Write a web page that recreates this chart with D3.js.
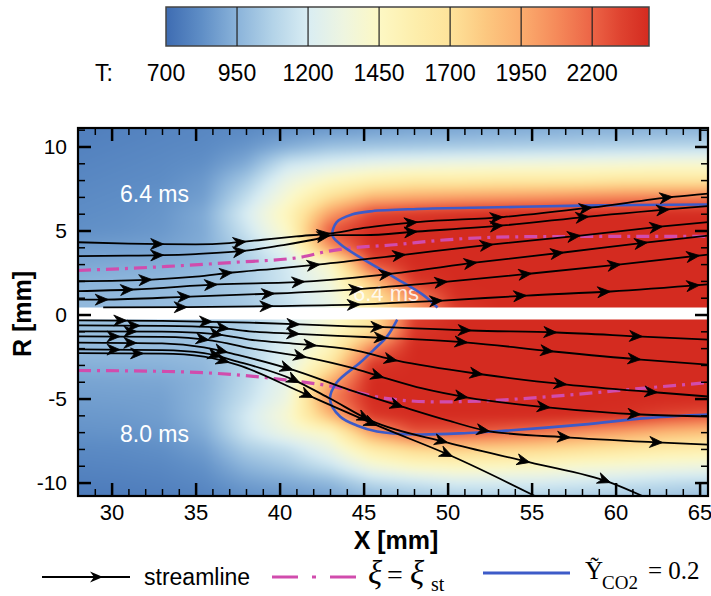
<!DOCTYPE html>
<html>
<head>
<meta charset="utf-8">
<script src="https://cdn.jsdelivr.net/npm/d3@7"></script>
<style>
body{margin:0;background:#fff}
text{font-family:Arial,"Liberation Sans",sans-serif}
.serif{font-family:"Times New Roman","Liberation Serif",serif}
</style>
</head>
<body>
<svg id="fig" width="711" height="596"></svg>
<script>
// colour map
var tempStops = [700, 825, 950, 1075, 1200, 1325, 1450, 1575, 1700, 1825, 1950, 2075, 2200, 2300, 2400]
var colorStops = ["#3e6cb2","#5f8ec6","#8ab3da","#b3d3e8","#d9edf3","#eef5e0","#fdf8c4","#fdeeac",
                  "#fee39a","#fcc880","#fbad6e","#f58a5a","#ec6446","#df4330","#d42b20"]
var barTicks = [700, 950, 1200, 1450, 1700, 1950, 2200]

var xTicks = [30, 35, 40, 45, 50, 55, 60, 65]
var yTicks = [-10, -5, 0, 5, 10]

// temperature samples (K), columns = gridX, rows = |R| 0..11 mm
var gridX = [28, 30.5, 33, 35.5, 38, 40.5, 43, 45.5, 48, 50.5, 53, 55.5, 58, 60.5, 63, 65.5]
var gridR = [0, 1, 2, 3, 4, 5, 6, 7, 8, 9, 10, 11]

// 6.4 ms, upper half
var tempUpper = [
	[970, 975, 985, 995, 1030, 1120, 1280, 1600, 1950, 2300, 2400, 2400, 2400, 2400, 2400, 2400],
	[970, 975, 985, 1000, 1040, 1150, 1300, 1650, 2050, 2380, 2400, 2400, 2400, 2400, 2400, 2400],
	[950, 960, 970, 990, 1050, 1170, 1350, 1850, 2350, 2400, 2400, 2400, 2400, 2400, 2400, 2400],
	[910, 920, 930, 960, 1050, 1180, 1420, 2250, 2400, 2400, 2400, 2400, 2400, 2400, 2400, 2400],
	[870, 880, 890, 930, 1080, 1300, 2050, 2400, 2400, 2400, 2400, 2400, 2400, 2400, 2400, 2400],
	[830, 840, 860, 920, 1150, 1450, 2250, 2400, 2400, 2400, 2400, 2400, 2400, 2400, 2400, 2400],
	[820, 830, 850, 920, 1200, 1500, 2000, 2300, 2350, 2380, 2400, 2400, 2400, 2400, 2400, 2400],
	[810, 820, 840, 880, 1120, 1400, 1700, 1900, 1950, 1980, 2000, 2020, 2050, 2080, 2100, 2120],
	[800, 810, 820, 860, 1030, 1300, 1450, 1550, 1600, 1600, 1620, 1620, 1620, 1650, 1650, 1650],
	[790, 800, 810, 830, 920, 1150, 1220, 1270, 1300, 1320, 1330, 1340, 1350, 1360, 1380, 1380],
	[780, 790, 800, 810, 850, 930, 1000, 1020, 1030, 1040, 1050, 1060, 1070, 1080, 1090, 1100],
	[770, 780, 790, 800, 810, 840, 860, 880, 900, 910, 920, 930, 940, 940, 950, 950]
]

// 8.0 ms, lower half
var tempLower = [
	[1000, 1000, 1005, 1010, 1050, 1180, 1380, 1650, 2300, 2400, 2400, 2400, 2400, 2400, 2400, 2400],
	[1000, 1000, 1005, 1015, 1060, 1200, 1420, 1700, 2350, 2400, 2400, 2400, 2400, 2400, 2400, 2400],
	[980, 985, 990, 1000, 1070, 1230, 1500, 2100, 2400, 2400, 2400, 2400, 2400, 2400, 2400, 2400],
	[940, 945, 950, 970, 1080, 1260, 1650, 2350, 2400, 2400, 2400, 2400, 2400, 2400, 2400, 2400],
	[900, 905, 910, 950, 1100, 1300, 1950, 2400, 2400, 2400, 2400, 2400, 2400, 2400, 2400, 2400],
	[880, 885, 890, 960, 1130, 1330, 2100, 2400, 2400, 2400, 2400, 2400, 2400, 2400, 2400, 2400],
	[860, 865, 880, 960, 1180, 1400, 1900, 2350, 2400, 2400, 2400, 2400, 2400, 2380, 2300, 2250],
	[840, 845, 860, 930, 1160, 1330, 1450, 2000, 2250, 2250, 2200, 2150, 2050, 1980, 1900, 1850],
	[810, 815, 830, 880, 1050, 1130, 1300, 1600, 1750, 1800, 1780, 1750, 1700, 1650, 1600, 1580],
	[790, 795, 805, 840, 960, 1030, 1150, 1350, 1450, 1480, 1470, 1450, 1400, 1380, 1350, 1330],
	[770, 775, 785, 810, 880, 920, 970, 1100, 1150, 1200, 1200, 1200, 1180, 1150, 1120, 1100],
	[750, 755, 765, 780, 820, 850, 880, 950, 1000, 1030, 1040, 1040, 1030, 1020, 1000, 980]
]

// streamlines [x mm, R mm]
var streamUpper = [
	[[28,4.3],[31,4.22],[35,4.18],[37,4.25],[39,4.45],[41,4.65],[43.2,4.85],[45,5.15],[48.2,5.5],[53.3,5.8],[58.6,6.37],[63.4,7.0],[65.5,7.2]],
	[[28,3.47],[31,3.5],[35,3.6],[38,3.8],[40,4.1],[42,4.45],[43.2,4.72],[45,4.72],[48.2,4.94],[53.3,5.3],[58.4,5.83],[65.5,6.45]],
	[[28,1.98],[32.4,2.08],[35,2.25],[37.2,2.5],[40,2.75],[42.4,2.98],[47.5,3.57],[52.7,4.17],[57.9,4.7],[62.8,5.24],[65.5,5.5]],
	[[28,1.39],[31.3,1.49],[36.3,1.79],[41.5,1.96],[46.7,2.44],[51.75,3.1],[56.9,3.69],[61.9,4.29],[65.5,4.7]],
	[[28,0.89],[29.5,0.89],[34.7,1.07],[39.7,1.25],[44.5,1.5],[50,1.96],[55,2.44],[60.3,2.98],[65.5,3.57]],
	[[29.5,0.42],[34.5,0.44],[39.6,0.5],[44.8,0.6],[49.7,0.83],[54.7,1.13],[59.7,1.37],[65.5,1.79]]
]
var arrowsUpper = [
	[33.1, 38.0, 43.0, 48.2, 53.3, 58.6, 63.4],
	[33.1, 38.0, 43.0, 48.2, 53.3, 58.4, 63.2],
	[32.4, 37.2, 42.4, 47.5, 52.7, 57.9, 62.8],
	[31.3, 36.3, 41.5, 46.7, 51.75, 56.9, 61.9],
	[29.8, 34.7, 39.7, 44.9, 50, 55, 60.3, 65],
	[34.5, 39.6, 44.8, 49.7, 54.7, 59.7, 65]
]
var streamLower = [
	[[28,-0.35],[33,-0.38],[38.2,-0.48],[44.2,-0.7],[46.2,-0.75],[51.4,-0.95],[56.5,-1.07],[61.6,-1.31],[65.5,-1.49]],
	[[28,-0.65],[33,-0.68],[36,-0.75],[38.2,-1.0],[41,-1.15],[44.2,-1.3],[46.4,-1.4],[51.2,-1.67],[56.3,-2.2],[61.5,-2.68],[65.5,-2.98]],
	[[28,-1.0],[33,-1.02],[36,-1.15],[38.2,-1.49],[41,-1.75],[44.2,-2.08],[47,-2.75],[52.1,-3.57],[57.1,-4.17],[62.5,-4.64],[65.5,-4.88]],
	[[28,-1.3],[33,-1.33],[36,-1.55],[38.2,-2.0],[41.6,-2.55],[44.2,-3.15],[46.2,-3.75],[48.5,-4.4],[51.2,-4.94],[56.1,-5.54],[61.5,-5.95],[65.5,-6.07]],
	[[28,-1.67],[33,-1.72],[35.5,-1.95],[37.5,-2.4],[40.8,-3.3],[44.2,-4.5],[47.35,-5.5],[50,-6.3],[52.5,-6.95],[57.3,-7.32],[62.8,-7.62],[65.5,-7.74]],
	[[28,-2.08],[33,-2.12],[35.5,-2.3],[37.5,-2.8],[40.8,-3.87],[43,-5.0],[45.4,-6.3],[50,-7.62],[54.9,-8.8],[59.7,-10],[61.6,-10.8]],
	[[28,-2.3],[33,-2.33],[35.5,-2.5],[37.5,-3.0],[41.2,-4.58],[43.5,-5.6],[45.8,-6.6],[50.3,-8.45],[55.2,-10.8]]
]
var arrowsLower = [
	[30.9, 36, 41.2, 46.2, 51.4, 56.5, 61.6],
	[31.7, 37, 41.2, 46.4, 51.2, 56.3, 61.5],
	[31.5, 36.6, 42.2, 47, 52.1, 57.1, 62.5],
	[30.5, 35.8, 41.6, 46.2, 51.2, 56.1, 61.5],
	[31.5, 36.9, 40.8, 47.35, 52.5, 57.3, 62.8],
	[30.5, 36.5, 41.2, 45.4, 50, 54.9, 59.7],
	[31.9, 37, 42, 45.8, 50.3]
]

// iso-lines
var xiUpper = [[28,2.62],[33.3,2.86],[37.2,3.1],[41.2,3.4],[42.8,3.75],[44.6,4.0],[46.2,4.1],[50.1,4.46],[52.9,4.6],[56.1,4.64],[65.5,4.65]]
var xiLower = [[28,-3.33],[33.3,-3.39],[37.2,-3.57],[40.2,-3.87],[43.2,-4.29],[46.2,-4.97],[49.4,-5.2],[52,-5.15],[56.1,-4.88],[62.05,-4.35],[65.5,-4.05]]
var co2Upper = [[49.4,0.42],[48.5,1.2],[46.75,2.26],[44.8,3.4],[43.6,4.2],[43.15,4.7],[43.4,5.5],[44.3,5.95],[45.5,6.15],[48.2,6.28],[53,6.38],[58,6.48],[65.5,6.55]]
var co2Lower = [[47.0,-0.3],[46.4,-1.3],[45.6,-2.1],[44.8,-2.86],[43.4,-4.05],[43.0,-5.06],[43.6,-6.07],[44.6,-6.6],[45.8,-6.96],[48.2,-7.14],[51.2,-7.05],[52.9,-6.95],[58,-6.55],[62,-6.15],[65.5,-5.95]]

var svg = d3.select("#fig")
var x = d3.scaleLinear().domain([28, 65.5]).range([78, 708])
var y = d3.scaleLinear().domain([-10.8, 11.1]).range([496, 128])
var color = d3.scaleLinear().domain(tempStops).range(colorStops).clamp(true)

// lookup table for the field
var lut = []
for(var t = 700; t <= 2400; t++){ lut.push(d3.rgb(color(t))) }

function sampleGrid(grid, xv, rv){
	var dx = gridX[1]-gridX[0], dr = gridR[1]-gridR[0]
	var fi = Math.max(0, Math.min(gridX.length-1.0001, (xv-gridX[0])/dx))
	var fj = Math.max(0, Math.min(gridR.length-1.0001, (rv-gridR[0])/dr))
	var i = Math.floor(fi), j = Math.floor(fj)
	var u = fi-i, v = fj-j
	var a = grid[j][i]*(1-u) + grid[j][i+1]*u
	var b = grid[j+1][i]*(1-u) + grid[j+1][i+1]*u
	return a*(1-v) + b*v
}

function drawField(grid, sign, rLow, rHigh, id){
	var pad = 14
	var px0 = x(28)-pad, py0 = y(rHigh)-pad
	var w = Math.round(x(65.5)-x(28)+2*pad), h = Math.round(y(rLow)-y(rHigh)+2*pad)
	var c1 = document.createElement("canvas")
	c1.width = w; c1.height = h
	var ctx = c1.getContext("2d")
	var img = ctx.createImageData(w, h)
	for(var j = 0; j < h; j++){
		var rv = sign*y.invert(py0+j+0.5)
		for(var i = 0; i < w; i++){
			var T = sampleGrid(grid, x.invert(px0+i+0.5), rv)
			var c = lut[Math.max(0, Math.min(1700, Math.round(T-700)))]
			var k = 4*(j*w+i)
			img.data[k] = c.r; img.data[k+1] = c.g; img.data[k+2] = c.b; img.data[k+3] = 255
		}
	}
	ctx.putImageData(img, 0, 0)
	var c2 = document.createElement("canvas")
	c2.width = w; c2.height = h
	var ctx2 = c2.getContext("2d")
	ctx2.filter = "blur(4px)"
	ctx2.drawImage(c1, 0, 0)

	svg.append("clipPath").attr("id", id)
		.append("rect")
		.attr("x", x(28)).attr("y", y(rHigh))
		.attr("width", x(65.5)-x(28)).attr("height", y(rLow)-y(rHigh))
	svg.append("image")
		.attr("href", c2.toDataURL())
		.attr("x", px0).attr("y", py0)
		.attr("width", w).attr("height", h)
		.attr("preserveAspectRatio", "none")
		.attr("clip-path", "url(#"+id+")")
}

drawField(tempUpper, 1, 0.42, 11.1, "clipUp")
drawField(tempLower, -1, -10.8, -0.3, "clipLow")

var plot = svg.append("g")
plot.append("clipPath").attr("id", "clipPlot")
	.append("rect").attr("x", 78).attr("y", 128).attr("width", 630).attr("height", 368)
var inner = plot.append("g").attr("clip-path", "url(#clipPlot)")

// ghost label inside the field
inner.append("text").attr("x", 353).attr("y", 301)
	.attr("font-size", 22).attr("fill", "#fff").attr("opacity", 0.85).text("6.4 ms")

var smooth = d3.line().x(d=>x(d[0])).y(d=>y(d[1])).curve(d3.curveMonotoneX)
var loop = d3.line().x(d=>x(d[0])).y(d=>y(d[1])).curve(d3.curveCatmullRom)

// mixture fraction iso-line
inner.selectAll(".xi").data([xiUpper, xiLower]).enter()
	.append("path").attr("class", "xi")
	.attr("d", smooth)
	.attr("fill", "none").attr("stroke", "#d14cad").attr("stroke-width", 3.2)
	.attr("stroke-dasharray", "13,6,3,6")

// CO2 iso-line
inner.selectAll(".co2").data([co2Upper, co2Lower]).enter()
	.append("path").attr("class", "co2")
	.attr("d", loop)
	.attr("fill", "none").attr("stroke", "#3d5bc8").attr("stroke-width", 2.6)

var arrowHead = "M0,0L-13,-5.5L-9,0L-13,5.5Z"

function addStreams(lines, arrows){
	lines.forEach(function(pts, n){
		var path = inner.append("path")
			.attr("d", smooth(pts))
			.attr("fill", "none").attr("stroke", "#000").attr("stroke-width", 1.8)
		var node = path.node()
		var L = node.getTotalLength()
		arrows[n].forEach(function(ax){
			var target = x(ax), lo = 0, hi = L
			for(var it = 0; it < 30; it++){
				var mid = (lo+hi)/2
				if(node.getPointAtLength(mid).x < target) lo = mid; else hi = mid
			}
			var p = node.getPointAtLength(lo)
			var p0 = node.getPointAtLength(Math.max(0, lo-3)), p1 = node.getPointAtLength(Math.min(L, lo+3))
			var ang = Math.atan2(p1.y-p0.y, p1.x-p0.x)*180/Math.PI
			inner.append("path").attr("d", arrowHead).attr("fill", "#000")
				.attr("stroke", "#000").attr("stroke-width", 0.8).attr("stroke-linejoin", "round")
				.attr("transform", "translate("+p.x+","+p.y+") rotate("+ang+")")
		})
	})
}
addStreams(streamUpper, arrowsUpper)
addStreams(streamLower, arrowsLower)

// time labels
inner.append("text").attr("x", 120).attr("y", 202).attr("font-size", 23).attr("fill", "#fff").text("6.4 ms")
inner.append("text").attr("x", 120).attr("y", 442).attr("font-size", 23).attr("fill", "#fff").text("8.0 ms")

// axes, ticks pointing inwards on all four sides
var xMinor = d3.range(29, 66, 1).filter(d => d%5 != 0)
var yMinor = d3.range(-10, 12, 1).filter(d => d%5 != 0)
var fmt = d => String(d)

function styleAxis(g, size){
	g.select(".domain").remove()
	g.attr("font-family", "Arial, 'Liberation Sans', sans-serif").attr("font-size", size)
}
var gx = svg.append("g").attr("transform", "translate(0,496)")
	.call(d3.axisBottom(x).tickValues(xTicks).tickSize(-13).tickPadding(8).tickFormat(fmt))
styleAxis(gx, 22)
gx.selectAll("line").attr("stroke-width", 2.5)
var gxm = svg.append("g").attr("transform", "translate(0,496)")
	.call(d3.axisBottom(x).tickValues(xMinor).tickSize(-7).tickFormat(""))
styleAxis(gxm, 10)
gxm.selectAll("line").attr("stroke-width", 1.5)
var gt = svg.append("g").attr("transform", "translate(0,128)")
	.call(d3.axisTop(x).tickValues(xTicks).tickSize(-13).tickFormat(""))
styleAxis(gt, 10)
gt.selectAll("line").attr("stroke-width", 2.5)
var gtm = svg.append("g").attr("transform", "translate(0,128)")
	.call(d3.axisTop(x).tickValues(xMinor).tickSize(-7).tickFormat(""))
styleAxis(gtm, 10)
gtm.selectAll("line").attr("stroke-width", 1.5)

var gy = svg.append("g").attr("transform", "translate(78,0)")
	.call(d3.axisLeft(y).tickValues(yTicks).tickSize(-13).tickPadding(11).tickFormat(fmt))
styleAxis(gy, 21)
gy.selectAll("line").attr("stroke-width", 2.5)
var gym = svg.append("g").attr("transform", "translate(78,0)")
	.call(d3.axisLeft(y).tickValues(yMinor).tickSize(-7).tickFormat(""))
styleAxis(gym, 10)
gym.selectAll("line").attr("stroke-width", 1.5)
var gr = svg.append("g").attr("transform", "translate(708,0)")
	.call(d3.axisRight(y).tickValues(yTicks).tickSize(-13).tickFormat(""))
styleAxis(gr, 10)
gr.selectAll("line").attr("stroke-width", 2.5)
var grm = svg.append("g").attr("transform", "translate(708,0)")
	.call(d3.axisRight(y).tickValues(yMinor).tickSize(-7).tickFormat(""))
styleAxis(grm, 10)
grm.selectAll("line").attr("stroke-width", 1.5)

svg.append("rect").attr("x", 78).attr("y", 128).attr("width", 630).attr("height", 368)
	.attr("fill", "none").attr("stroke", "#000").attr("stroke-width", 2.2)

svg.append("text").attr("x", 396).attr("y", 549).attr("text-anchor", "middle")
	.attr("font-size", 25).attr("font-weight", "bold").text("X [mm]")
svg.append("text").attr("transform", "translate(31,314) rotate(-90)").attr("text-anchor", "middle")
	.attr("font-size", 25).attr("font-weight", "bold").text("R [mm]")

// colour bar
var cb = d3.scaleLinear().domain([700, 2400]).range([166, 649])
var grad = svg.append("defs").append("linearGradient").attr("id", "tgrad")
grad.selectAll("stop").data(tempStops).enter().append("stop")
	.attr("offset", d => (d-700)/1700)
	.attr("stop-color", (d,i) => colorStops[i])
svg.append("rect").attr("x", cb(700)).attr("y", 7).attr("width", cb(2400)-cb(700)).attr("height", 39)
	.attr("fill", "url(#tgrad)").attr("stroke", "#444").attr("stroke-width", 1.5)
svg.selectAll(".cbsep").data(barTicks.slice(1)).enter().append("line")
	.attr("x1", d => cb(d)).attr("x2", d => cb(d)).attr("y1", 7).attr("y2", 46)
	.attr("stroke", "#222").attr("stroke-width", 1.2)
svg.selectAll(".cblab").data(barTicks).enter().append("text")
	.attr("x", d => cb(d)).attr("y", 81).attr("text-anchor", "middle")
	.attr("font-size", 23).text(d => d)
svg.append("text").attr("x", 95).attr("y", 81).attr("font-size", 23).text("T:")

// legend
var leg = svg.append("g")
leg.append("line").attr("x1", 42).attr("x2", 130).attr("y1", 577).attr("y2", 577)
	.attr("stroke", "#000").attr("stroke-width", 1.8)
leg.append("path").attr("d", arrowHead).attr("fill", "#000").attr("transform", "translate(103,577)")
leg.append("text").attr("x", 144).attr("y", 585).attr("font-size", 23).text("streamline")
leg.append("line").attr("x1", 272).attr("x2", 358).attr("y1", 577).attr("y2", 577)
	.attr("stroke", "#d14cad").attr("stroke-width", 3.2).attr("stroke-dasharray", "26,14,4,14")
leg.append("text").attr("class", "serif").attr("x", 368).attr("y", 584).attr("font-size", 33)
	.attr("font-style", "italic").text("ξ")
leg.append("text").attr("class", "serif").attr("x", 387).attr("y", 584).attr("font-size", 28).text("=")
leg.append("text").attr("class", "serif").attr("x", 410).attr("y", 584).attr("font-size", 33)
	.attr("font-style", "italic").text("ξ")
leg.append("text").attr("class", "serif").attr("x", 431).attr("y", 591).attr("font-size", 20).text("st")
leg.append("line").attr("x1", 483).attr("x2", 570).attr("y1", 573).attr("y2", 573)
	.attr("stroke", "#3d5bc8").attr("stroke-width", 3)
leg.append("text").attr("class", "serif").attr("x", 585).attr("y", 579).attr("font-size", 25).text("Ỹ")
leg.append("text").attr("class", "serif").attr("x", 602).attr("y", 589).attr("font-size", 19).text("CO2")
leg.append("text").attr("class", "serif").attr("x", 648).attr("y", 579).attr("font-size", 25).text("= 0.2")
</script>
</body>
</html>
